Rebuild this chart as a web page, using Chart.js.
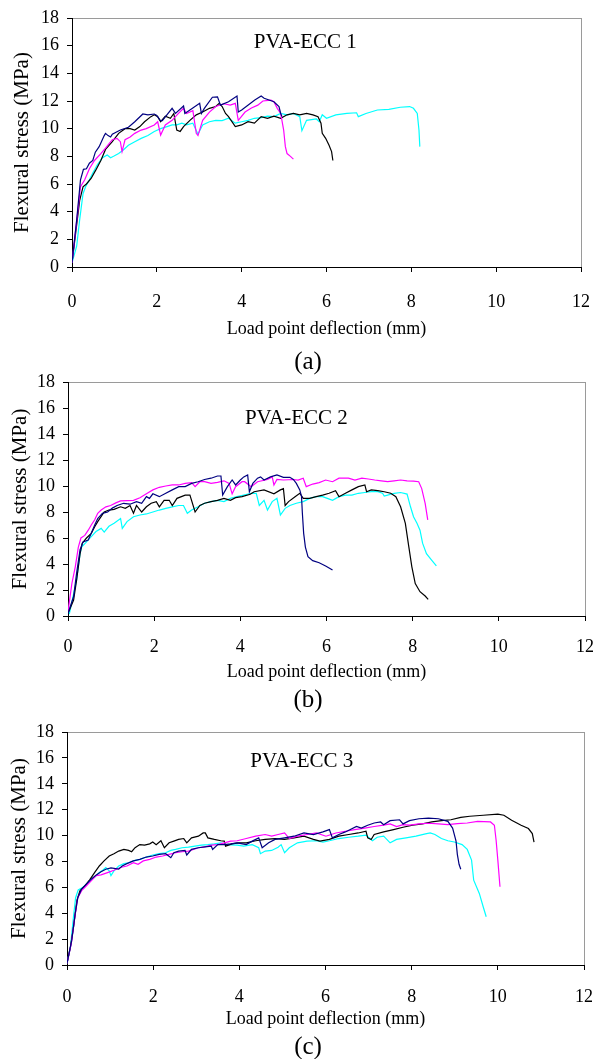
<!DOCTYPE html>
<html>
<head>
<meta charset="utf-8">
<script src="https://cdn.jsdelivr.net/npm/chart.js@4.4.0/dist/chart.umd.min.js"></script>
<style>
  html, body { margin: 0; padding: 0; background: #fff; overflow: hidden; }
  body { width: 611px; height: 1059px; position: relative; }
  .panel { position: absolute; left: 0; width: 611px; height: 340px; }
  .panel canvas { display: block; }
  .cap { position: absolute; left: 258px; width: 100px; text-align: center;
         font-family: 'Liberation Serif', 'Times New Roman', serif; font-size: 25px; line-height: 25px; color: #000; }
</style>
</head>
<body>
<div class="panel" style="top:0px"><canvas id="chart1" width="611" height="340"></canvas></div>
<div class="panel" style="top:350px"><canvas id="chart2" width="611" height="340"></canvas></div>
<div class="panel" style="top:700px"><canvas id="chart3" width="611" height="340"></canvas></div>
<div class="cap" style="top:348px">(a)</div>
<div class="cap" style="top:686px">(b)</div>
<div class="cap" style="top:1033px">(c)</div>

<script>
// axis ticks
const xTicks = [0, 2, 4, 6, 8, 10, 12];
const yTicks = [0, 2, 4, 6, 8, 10, 12, 14, 16, 18];

const seriesColors = { blue: '#000080', magenta: '#ff00ff', black: '#000000', cyan: '#00ffff' };

// PVA-ECC 1 : [deflection mm, stress MPa]
const ecc1Blue = [[0,0.3],[0.11,3.4],[0.2,6.3],[0.27,7.06],[0.34,7.1],[0.41,7.5],[0.49,7.7],[0.55,8.3],[0.64,8.7],[0.76,9.5],[0.79,9.66],[0.85,9.5],[0.91,9.4],[0.95,9.6],[1.14,9.9],[1.33,10.1],[1.48,10.5],[1.67,11.06],[1.79,11.0],[1.94,11.06],[2.0,10.95],[2.08,10.6],[2.13,10.58],[2.36,11.47],[2.44,11.1],[2.63,11.64],[2.66,11.1],[2.78,11.35],[3.01,11.83],[3.05,11.1],[3.12,11.47],[3.31,12.27],[3.43,12.3],[3.5,11.7],[3.69,11.95],[3.89,12.36],[3.92,11.2],[4.0,11.35],[4.31,12.07],[4.46,12.36],[4.53,12.2],[4.76,11.95],[4.88,11.6],[4.92,11.1],[4.95,10.87]];
const ecc1Magenta = [[0,0.3],[0.15,4.4],[0.2,5.8],[0.3,6.3],[0.41,7.1],[0.53,7.7],[0.68,8.2],[0.79,8.6],[0.87,8.9],[0.95,9.2],[1.06,9.3],[1.14,9.06],[1.18,8.34],[1.25,9.2],[1.37,9.4],[1.48,9.66],[1.63,9.9],[1.75,10.0],[1.94,10.27],[2.02,10.5],[2.09,9.54],[2.2,10.27],[2.36,10.6],[2.51,11.1],[2.63,11.47],[2.7,11.1],[2.85,11.3],[2.93,9.66],[2.97,9.5],[3.08,10.6],[3.24,11.2],[3.39,11.6],[3.58,11.8],[3.73,11.7],[3.85,11.83],[3.92,10.6],[4.08,11.2],[4.23,11.5],[4.38,11.7],[4.5,12.0],[4.69,12.07],[4.76,11.95],[4.84,11.47],[4.92,11.1],[4.99,9.9],[5.03,8.7],[5.07,8.2],[5.15,8.0],[5.22,7.8]];
const ecc1Black = [[0,0.3],[0.18,4.8],[0.26,5.8],[0.34,6.0],[0.45,6.4],[0.56,7.0],[0.68,7.7],[0.79,8.5],[0.95,9.06],[1.1,9.66],[1.25,10.0],[1.37,10.0],[1.48,9.9],[1.6,10.15],[1.71,10.5],[1.86,10.87],[1.94,11.0],[2.02,10.87],[2.09,10.5],[2.2,10.9],[2.32,10.75],[2.4,11.1],[2.47,9.9],[2.55,9.8],[2.63,10.15],[2.78,10.6],[2.93,11.0],[3.08,11.2],[3.24,11.47],[3.39,11.6],[3.47,11.83],[3.54,11.6],[3.62,11.1],[3.69,10.87],[3.85,10.15],[4.0,10.27],[4.15,10.5],[4.3,10.4],[4.46,10.87],[4.61,10.75],[4.76,10.9],[4.92,10.75],[5.07,11.0],[5.22,11.1],[5.37,11.0],[5.53,11.1],[5.68,11.0],[5.8,10.87],[5.87,10.4],[5.9,9.66],[5.98,9.3],[6.06,8.8],[6.12,8.34],[6.15,7.7]];
const ecc1Cyan = [[0,0.3],[0.11,1.5],[0.18,3.4],[0.26,5.3],[0.32,5.8],[0.41,6.3],[0.49,6.8],[0.6,7.4],[0.72,7.9],[0.83,8.1],[0.91,7.9],[0.98,8.0],[1.1,8.2],[1.21,8.46],[1.33,8.8],[1.48,9.06],[1.63,9.3],[1.79,9.5],[1.94,9.8],[2.09,10.0],[2.24,10.15],[2.36,10.27],[2.47,10.27],[2.59,10.4],[2.7,10.27],[2.85,10.4],[2.97,9.6],[3.08,10.27],[3.24,10.5],[3.39,10.6],[3.54,10.58],[3.69,10.75],[3.85,10.4],[4.0,10.5],[4.15,10.6],[4.3,10.75],[4.46,10.8],[4.61,10.9],[4.76,10.87],[4.92,11.1],[5.07,11.0],[5.22,11.1],[5.37,10.87],[5.42,9.85],[5.53,10.6],[5.76,10.7],[5.83,10.5],[5.9,11.0],[6.0,10.75],[6.22,11.0],[6.48,11.1],[6.71,11.15],[6.75,10.87],[6.93,11.1],[7.2,11.35],[7.47,11.4],[7.74,11.55],[7.96,11.6],[8.05,11.47],[8.14,11.1],[8.18,9.9],[8.2,8.7]];

// PVA-ECC 2
const ecc2Blue = [[0,0.2],[0.13,1.5],[0.2,3.3],[0.28,5.1],[0.35,5.7],[0.47,5.85],[0.54,6.36],[0.62,7.0],[0.69,7.5],[0.8,7.9],[0.92,8.0],[1.03,8.3],[1.14,8.5],[1.29,8.67],[1.44,8.6],[1.59,8.8],[1.71,8.67],[1.82,9.18],[1.89,9.05],[1.97,9.4],[2.12,9.18],[2.27,9.44],[2.42,9.7],[2.57,9.95],[2.72,9.95],[2.87,10.2],[3.02,10.33],[3.17,10.5],[3.32,10.6],[3.47,10.77],[3.55,10.77],[3.59,9.3],[3.7,9.95],[3.81,10.46],[3.89,10.08],[4.0,10.46],[4.08,10.7],[4.17,10.85],[4.21,9.56],[4.29,10.2],[4.4,10.6],[4.47,10.7],[4.55,10.46],[4.7,10.7],[4.85,10.85],[5.0,10.67],[5.15,10.67],[5.23,10.5],[5.3,10.2],[5.38,9.7],[5.42,9.2],[5.44,7.9],[5.47,6.36],[5.51,5.3],[5.57,4.56],[5.68,4.26],[5.83,4.1],[5.98,3.85],[6.14,3.54]];
const ecc2Magenta = [[0,0.33],[0.09,2.5],[0.17,3.8],[0.24,5.3],[0.3,6.0],[0.39,6.2],[0.47,6.6],[0.54,7.0],[0.62,7.4],[0.69,7.9],[0.77,8.15],[0.88,8.4],[0.99,8.5],[1.11,8.7],[1.22,8.85],[1.37,8.87],[1.52,8.9],[1.67,9.1],[1.82,9.4],[1.97,9.7],[2.12,9.9],[2.27,10.0],[2.42,10.08],[2.57,10.08],[2.72,10.2],[2.87,10.26],[2.95,9.95],[3.06,10.33],[3.17,10.33],[3.32,10.2],[3.47,10.28],[3.62,10.4],[3.74,10.2],[3.81,9.4],[3.89,9.95],[4.04,10.33],[4.1,10.33],[4.25,9.95],[4.4,10.33],[4.63,10.5],[4.74,10.7],[4.78,10.08],[4.85,10.5],[5.0,10.46],[5.23,10.5],[5.34,10.46],[5.46,10.6],[5.53,9.95],[5.68,10.15],[5.83,10.26],[5.98,10.46],[6.14,10.33],[6.29,10.6],[6.51,10.6],[6.66,10.46],[6.82,10.6],[6.97,10.54],[7.12,10.46],[7.27,10.4],[7.42,10.33],[7.57,10.4],[7.72,10.46],[7.87,10.4],[8.02,10.38],[8.14,10.33],[8.21,9.8],[8.29,8.67],[8.35,7.4]];
const ecc2Black = [[0,0.2],[0.13,1.23],[0.2,2.77],[0.28,4.8],[0.33,5.6],[0.43,6.0],[0.54,6.36],[0.62,6.87],[0.69,7.26],[0.84,8.0],[0.95,8.15],[1.07,8.2],[1.22,8.4],[1.33,8.28],[1.44,8.5],[1.52,7.9],[1.59,8.5],[1.71,8.0],[1.82,8.4],[1.93,8.67],[2.05,8.8],[2.12,8.4],[2.23,8.9],[2.35,8.9],[2.42,8.5],[2.53,9.05],[2.72,9.3],[2.83,9.3],[2.95,8.0],[3.06,8.5],[3.17,8.67],[3.32,8.8],[3.47,8.9],[3.62,9.05],[3.77,8.9],[3.89,9.1],[4.04,9.18],[4.23,9.36],[4.32,9.56],[4.55,9.7],[4.78,9.4],[4.93,9.7],[5.0,9.8],[5.04,8.5],[5.12,8.8],[5.27,9.18],[5.38,9.44],[5.46,9.05],[5.61,9.05],[5.76,9.18],[5.91,9.3],[6.06,9.44],[6.21,9.64],[6.29,9.18],[6.44,9.44],[6.59,9.7],[6.74,9.95],[6.89,10.08],[6.93,9.56],[7.04,9.7],[7.19,9.64],[7.34,9.56],[7.49,9.44],[7.61,9.18],[7.72,8.4],[7.83,7.13],[7.91,5.33],[7.98,3.8],[8.06,2.5],[8.17,1.87],[8.29,1.54],[8.36,1.28]];
const ecc2Cyan = [[0.03,0.15],[0.2,2.77],[0.28,4.8],[0.32,5.33],[0.43,5.7],[0.54,6.1],[0.65,6.5],[0.77,6.74],[0.84,6.46],[0.95,6.9],[1.07,7.13],[1.22,7.5],[1.26,6.74],[1.37,7.26],[1.52,7.64],[1.67,7.77],[1.82,7.85],[1.97,8.0],[2.12,8.15],[2.27,8.28],[2.42,8.4],[2.57,8.5],[2.68,8.5],[2.77,7.9],[2.87,8.15],[3.02,8.4],[3.17,8.67],[3.32,8.8],[3.47,8.9],[3.62,8.8],[3.77,9.05],[3.92,9.18],[4.08,9.3],[4.25,9.44],[4.37,9.44],[4.44,8.5],[4.55,8.9],[4.63,8.15],[4.74,8.8],[4.85,9.05],[4.93,7.77],[5.04,8.28],[5.15,8.5],[5.3,8.67],[5.46,8.8],[5.61,9.05],[5.76,9.18],[5.91,9.18],[6.02,9.05],[6.14,8.9],[6.29,9.18],[6.44,9.3],[6.59,9.3],[6.74,9.44],[6.89,9.5],[7.04,9.56],[7.19,9.56],[7.3,9.44],[7.34,9.23],[7.42,9.3],[7.57,9.44],[7.72,9.5],[7.87,9.38],[7.95,8.4],[8.02,7.64],[8.1,7.13],[8.17,6.6],[8.23,5.6],[8.32,4.8],[8.44,4.3],[8.55,3.85]];

// PVA-ECC 3
const ecc3Blue = [[0,0.13],[0.11,1.9],[0.19,3.95],[0.25,5.2],[0.34,5.87],[0.45,6.25],[0.56,6.63],[0.68,6.96],[0.79,7.2],[0.9,7.4],[1.02,7.5],[1.2,7.4],[1.28,7.65],[1.39,7.83],[1.54,8.04],[1.69,8.16],[1.84,8.34],[1.99,8.42],[2.14,8.55],[2.29,8.6],[2.41,8.29],[2.48,8.67],[2.59,8.8],[2.74,8.85],[2.78,8.5],[2.89,8.93],[3.05,9.06],[3.2,9.13],[3.35,9.18],[3.38,8.93],[3.5,9.3],[3.65,9.3],[3.8,9.36],[3.95,9.44],[4.16,9.3],[4.3,9.57],[4.45,9.82],[4.53,9.06],[4.68,9.44],[4.83,9.7],[5.05,9.82],[5.27,9.95],[5.5,10.2],[5.72,10.08],[5.94,10.28],[6.09,10.46],[6.16,9.82],[6.31,10.08],[6.46,10.28],[6.72,10.7],[6.83,10.58],[6.98,10.8],[7.13,10.97],[7.28,11.05],[7.35,10.84],[7.5,11.15],[7.72,11.22],[7.8,10.9],[7.95,11.15],[8.17,11.3],[8.39,11.35],[8.62,11.3],[8.84,11.1],[8.95,10.58],[9.03,9.57],[9.06,8.55],[9.1,7.78],[9.14,7.4]];
const ecc3Magenta = [[0,0.13],[0.1,1.66],[0.17,3.44],[0.25,5.2],[0.34,5.74],[0.45,6.12],[0.56,6.5],[0.68,6.9],[0.79,6.96],[0.94,7.14],[1.09,7.32],[1.24,7.53],[1.39,7.65],[1.54,7.9],[1.65,7.78],[1.77,8.04],[1.92,8.16],[2.07,8.34],[2.22,8.42],[2.37,8.55],[2.52,8.67],[2.67,8.75],[2.82,8.8],[3.05,9.06],[3.2,9.13],[3.35,9.26],[3.5,9.3],[3.65,9.44],[3.8,9.57],[3.95,9.6],[4.16,9.77],[4.38,9.95],[4.6,10.08],[4.75,9.95],[4.9,10.08],[5.05,10.2],[5.16,9.77],[5.35,9.95],[5.57,10.08],[5.79,10.2],[6.01,9.95],[6.24,10.2],[6.46,10.33],[6.68,10.46],[6.91,10.58],[7.13,10.7],[7.35,10.8],[7.5,10.9],[7.65,10.7],[7.8,10.84],[7.95,10.8],[8.17,10.9],[8.39,10.95],[8.62,10.9],[8.84,10.84],[9.06,10.92],[9.29,10.97],[9.53,11.1],[9.83,11.05],[9.92,10.8],[9.96,9.64],[10.0,8.1],[10.05,6.04]];
const ecc3Black = [[0,0.13],[0.08,1.4],[0.15,2.9],[0.23,5.0],[0.3,5.74],[0.41,6.1],[0.53,6.6],[0.64,7.14],[0.75,7.65],[0.86,8.04],[0.98,8.42],[1.09,8.6],[1.2,8.8],[1.32,8.93],[1.43,8.85],[1.5,8.75],[1.58,9.06],[1.69,9.3],[1.8,9.26],[1.92,9.36],[1.99,9.5],[2.07,9.3],[2.18,9.6],[2.26,9.06],[2.37,9.44],[2.48,9.57],[2.59,9.7],[2.71,9.77],[2.78,9.44],[2.89,9.82],[3.05,9.95],[3.16,10.2],[3.21,10.2],[3.27,9.82],[3.42,9.7],[3.57,9.6],[3.65,9.57],[3.68,9.18],[3.83,9.36],[3.98,9.44],[4.16,9.44],[4.38,9.6],[4.6,9.7],[4.83,9.77],[5.05,9.7],[5.27,9.82],[5.5,9.95],[5.72,9.7],[5.87,9.57],[6.09,9.7],[6.31,9.95],[6.54,10.08],[6.76,10.2],[6.94,10.33],[6.98,9.82],[7.06,9.7],[7.13,10.08],[7.35,10.28],[7.58,10.46],[7.8,10.64],[8.02,10.8],[8.25,10.9],[8.47,11.05],[8.69,11.15],[8.91,11.22],[9.14,11.4],[9.35,11.49],[9.66,11.57],[10.0,11.65],[10.14,11.57],[10.32,11.18],[10.54,10.8],[10.71,10.54],[10.8,10.15],[10.84,9.5]];
const ecc3Cyan = [[0,0.13],[0.08,1.4],[0.15,3.7],[0.2,5.2],[0.26,5.8],[0.34,5.94],[0.41,6.12],[0.53,6.5],[0.64,6.8],[0.75,7.14],[0.83,7.32],[0.9,7.53],[0.98,7.27],[1.02,6.9],[1.09,7.27],[1.2,7.65],[1.32,7.83],[1.43,7.9],[1.54,8.04],[1.69,8.16],[1.84,8.34],[1.99,8.5],[2.14,8.6],[2.29,8.67],[2.41,8.85],[2.52,8.93],[2.67,9.06],[2.82,9.1],[2.97,9.18],[3.12,9.26],[3.27,9.3],[3.42,9.36],[3.57,9.44],[3.68,9.3],[3.95,9.26],[4.1,9.18],[4.3,9.3],[4.45,9.06],[4.49,8.6],[4.6,8.8],[4.75,8.85],[4.9,9.1],[4.97,9.3],[5.05,8.67],[5.16,9.06],[5.35,9.44],[5.57,9.57],[5.79,9.6],[5.94,9.5],[6.09,9.6],[6.31,9.77],[6.54,9.87],[6.76,9.95],[6.94,10.03],[7.09,9.6],[7.2,9.87],[7.35,9.95],[7.5,9.44],[7.65,9.7],[7.87,9.82],[8.1,9.95],[8.32,10.13],[8.43,10.2],[8.54,10.08],[8.69,9.77],[8.84,9.6],[8.99,9.5],[9.17,9.3],[9.29,8.93],[9.39,8.1],[9.44,6.55],[9.57,5.53],[9.66,4.5],[9.73,3.73]];

const serif = "'Liberation Serif', 'Times New Roman', serif";
Chart.defaults.color = '#000';
Chart.defaults.font.family = serif;

// light grey box round the plot area; left/bottom axes are drawn over it in black
const framePlugin = {
  id: 'frame',
  beforeDraw(chart) {
    const { ctx, chartArea: a } = chart;
    ctx.save();
    ctx.strokeStyle = '#9a9a9a';
    ctx.lineWidth = 1;
    ctx.strokeRect(Math.round(a.left) + 0.5, Math.round(a.top) + 0.5, Math.round(a.right - a.left), Math.round(a.bottom - a.top));
    ctx.restore();
  }
};

// "PVA-ECC n" label placed in data space
const panelLabel = {
  id: 'panelLabel',
  afterDatasetsDraw(chart, args, opts) {
    const { ctx, scales } = chart;
    ctx.save();
    ctx.font = '21px ' + serif;
    ctx.fillStyle = '#000';
    ctx.textAlign = 'center';
    ctx.textBaseline = 'middle';
    ctx.fillText(opts.text, scales.x.getPixelForValue(opts.x), scales.y.getPixelForValue(opts.y));
    ctx.restore();
  }
};

function toPoints(arr) {
  return arr.map(p => ({ x: p[0], y: p[1] }));
}

function makeChart(id, series, label, box) {
  const datasets = series.map(s => ({
    data: toPoints(s.data),
    borderColor: seriesColors[s.color],
    borderWidth: 1.2,
    pointRadius: 0,
    tension: 0,
    fill: false
  }));

  return new Chart(document.getElementById(id), {
    type: 'line',
    data: { datasets },
    plugins: [framePlugin, panelLabel],
    options: {
      responsive: false,
      animation: false,
      devicePixelRatio: 1,
      layout: { padding: { top: box.padTop, right: box.padRight, left: 0, bottom: 0 } },
      plugins: {
        legend: { display: false },
        tooltip: { enabled: false },
        panelLabel: label
      },
      scales: {
        x: {
          type: 'linear',
          min: 0,
          max: 12,
          afterBuildTicks: s => { s.ticks = xTicks.map(v => ({ value: v })); },
          afterFit: s => { s.height = box.xH; },
          ticks: { font: { size: 18, lineHeight: 1 }, padding: box.xTickPad, maxRotation: 0 },
          grid: { drawOnChartArea: false, drawTicks: true, tickLength: 5, color: '#000' },
          border: { color: '#000', width: 1 },
          title: {
            display: true,
            text: 'Load point deflection (mm)',
            font: { size: 18, lineHeight: 1 },
            padding: { top: 0, bottom: box.xTitlePad }
          }
        },
        y: {
          min: 0,
          max: 18,
          afterBuildTicks: s => { s.ticks = yTicks.map(v => ({ value: v })); },
          afterFit: s => { s.width = box.yW; },
          ticks: { font: { size: 18, lineHeight: 1 }, padding: 8 },
          grid: { drawOnChartArea: false, drawTicks: true, tickLength: 5, color: '#000' },
          border: { color: '#000', width: 1 },
          title: {
            display: true,
            text: 'Flexural stress (MPa)',
            font: { size: 21, lineHeight: 1 },
            padding: { top: box.yTitlePad, bottom: 0 }
          }
        }
      }
    }
  });
}

makeChart('chart1', [
  { data: ecc1Blue, color: 'blue' },
  { data: ecc1Magenta, color: 'magenta' },
  { data: ecc1Black, color: 'black' },
  { data: ecc1Cyan, color: 'cyan' }
], { text: 'PVA-ECC 1', x: 5.5, y: 16.2 },
  { padTop: 18, padRight: 15, yW: 72, xH: 73, xTickPad: 21, xTitlePad: 2, yTitlePad: 12 });

makeChart('chart2', [
  { data: ecc2Blue, color: 'blue' },
  { data: ecc2Magenta, color: 'magenta' },
  { data: ecc2Black, color: 'black' },
  { data: ecc2Cyan, color: 'cyan' }
], { text: 'PVA-ECC 2', x: 5.3, y: 15.2 },
  { padTop: 32, padRight: 12, yW: 68, xH: 74, xTickPad: 17, xTitlePad: 9, yTitlePad: 10 });

makeChart('chart3', [
  { data: ecc3Blue, color: 'blue' },
  { data: ecc3Magenta, color: 'magenta' },
  { data: ecc3Black, color: 'black' },
  { data: ecc3Cyan, color: 'cyan' }
], { text: 'PVA-ECC 3', x: 5.45, y: 15.7 },
  { padTop: 32, padRight: 11, yW: 67, xH: 75, xTickPad: 18, xTitlePad: 12, yTitlePad: 9 });
</script>
</body>
</html>
